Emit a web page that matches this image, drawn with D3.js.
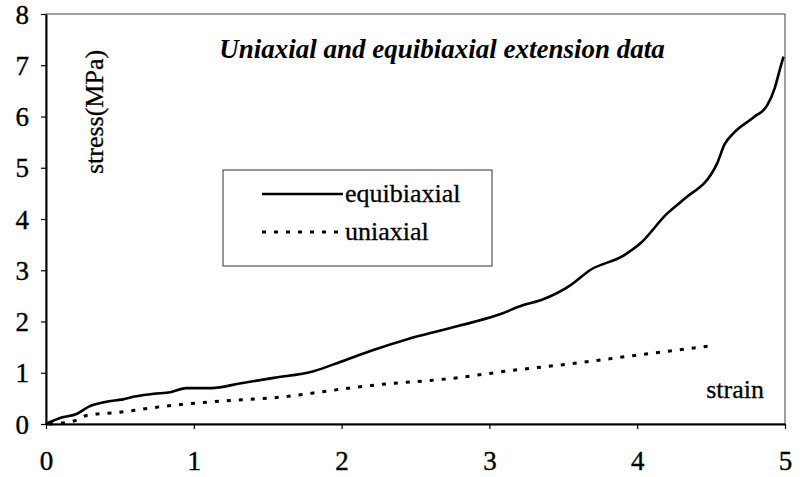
<!DOCTYPE html>
<html>
<head>
<meta charset="utf-8">
<script src="https://cdn.jsdelivr.net/npm/d3@7"></script>
<style>
  body { margin: 0; background: #fff; }
</style>
</head>
<body>
<svg width="806" height="477"></svg>
<script>
const FONT = "'Liberation Serif', 'Times New Roman', 'DejaVu Serif', serif";

// strain values
const equiStrain = [0, 0.1, 0.21, 0.29, 0.4, 0.52, 0.61, 0.73, 0.84, 0.95, 1.12, 1.31, 1.54, 1.81, 1.99, 2.21, 2.44, 2.65, 2.8, 3.05, 3.23, 3.36, 3.55, 3.68, 3.91, 4.02, 4.2, 4.31, 4.54, 4.59, 4.65, 4.79, 4.88, 4.93, 4.97, 4.99];
const equiStress = [0, 0.12, 0.2, 0.34, 0.43, 0.48, 0.54, 0.59, 0.62, 0.7, 0.7, 0.79, 0.9, 1.03, 1.21, 1.44, 1.65, 1.81, 1.92, 2.12, 2.32, 2.43, 2.71, 3.0, 3.29, 3.52, 4.1, 4.37, 5.08, 5.45, 5.67, 5.99, 6.22, 6.55, 6.97, 7.17];

const uniStrain = [0.02, 0.19, 0.28, 0.5, 0.81, 1.2, 1.61, 1.92, 2.26, 2.6, 2.71, 3.14, 3.59, 4.04, 4.48];
const uniStress = [0, 0.06, 0.17, 0.23, 0.35, 0.45, 0.53, 0.65, 0.77, 0.85, 0.88, 1.04, 1.19, 1.36, 1.52];

const xTicks = [0, 1, 2, 3, 4, 5];
const yTicks = [0, 1, 2, 3, 4, 5, 6, 7, 8];

const svg = d3.select("svg");

const x = d3.scaleLinear().domain([0, 5]).range([46, 785]);
const y = d3.scaleLinear().domain([0, 8]).range([424, 14]);

// frame (top/right thin)
svg.append("rect")
    .attr("x", x(0)).attr("y", y(8))
    .attr("width", x(5) - x(0)).attr("height", y(0) - y(8))
    .attr("fill", "none").attr("stroke", "#444").attr("stroke-width", 1);

const xAxis = svg.append("g")
    .attr("transform", `translate(0,${y(0)})`)
    .call(d3.axisBottom(x).tickValues(xTicks).tickFormat(d3.format("d")).tickSize(5).tickPadding(22).tickSizeOuter(0));

const yAxis = svg.append("g")
    .attr("transform", `translate(${x(0)},0)`)
    .call(d3.axisLeft(y).tickValues(yTicks).tickFormat(d3.format("d")).tickSize(5).tickPadding(12).tickSizeOuter(0));

[xAxis, yAxis].forEach(g => {
    g.attr("font-family", FONT).attr("font-size", 27);
    g.select(".domain").attr("stroke", "#000").attr("stroke-width", 2);
    g.selectAll(".tick line").attr("stroke", "#000").attr("stroke-width", 1.2);
    g.selectAll(".tick text").attr("fill", "#000").attr("stroke", "#000").attr("stroke-width", 0.4);
});
yAxis.selectAll(".tick text").attr("dy", "0.34em");

const line = d3.line().x(d => x(d[0])).y(d => y(d[1])).curve(d3.curveMonotoneX);

svg.append("path")
    .datum(d3.zip(equiStrain, equiStress))
    .attr("d", line)
    .attr("fill", "none").attr("stroke", "#000").attr("stroke-width", 2.6);

svg.append("path")
    .datum(d3.zip(uniStrain, uniStress))
    .attr("d", line)
    .attr("fill", "none").attr("stroke", "#000").attr("stroke-width", 3)
    .attr("stroke-dasharray", "4,8");

// title
svg.append("text")
    .attr("x", 442).attr("y", 58)
    .attr("text-anchor", "middle")
    .attr("font-family", FONT)
    .attr("font-size", 27).attr("font-weight", "bold").attr("font-style", "italic")
    .text("Uniaxial and equibiaxial extension data");

// axis titles
svg.append("text")
    .attr("transform", "translate(103,112) rotate(-90)")
    .attr("text-anchor", "middle")
    .attr("font-family", FONT).attr("font-size", 26)
    .attr("stroke", "#000").attr("stroke-width", 0.3)
    .text("stress(MPa)");

svg.append("text")
    .attr("x", 764).attr("y", 398)
    .attr("text-anchor", "end")
    .attr("font-family", FONT).attr("font-size", 26)
    .attr("stroke", "#000").attr("stroke-width", 0.3)
    .text("strain");

// legend
const legend = svg.append("g");
legend.append("rect")
    .attr("x", 223).attr("y", 170).attr("width", 269).attr("height", 96)
    .attr("fill", "#fff").attr("stroke", "#333").attr("stroke-width", 1);

const legendItems = [
    { label: "equibiaxial", dash: null, w: 2.6, yy: 194 },
    { label: "uniaxial", dash: "4,8", w: 3, yy: 232 }
];
legendItems.forEach(it => {
    legend.append("line")
        .attr("x1", 262).attr("x2", 343).attr("y1", it.yy).attr("y2", it.yy)
        .attr("stroke", "#000").attr("stroke-width", it.w)
        .attr("stroke-dasharray", it.dash);
    legend.append("text")
        .attr("x", 345).attr("y", it.yy + 8)
        .attr("font-family", FONT).attr("font-size", 26)
        .attr("stroke", "#000").attr("stroke-width", 0.3)
        .text(it.label);
});
</script>
</body>
</html>
